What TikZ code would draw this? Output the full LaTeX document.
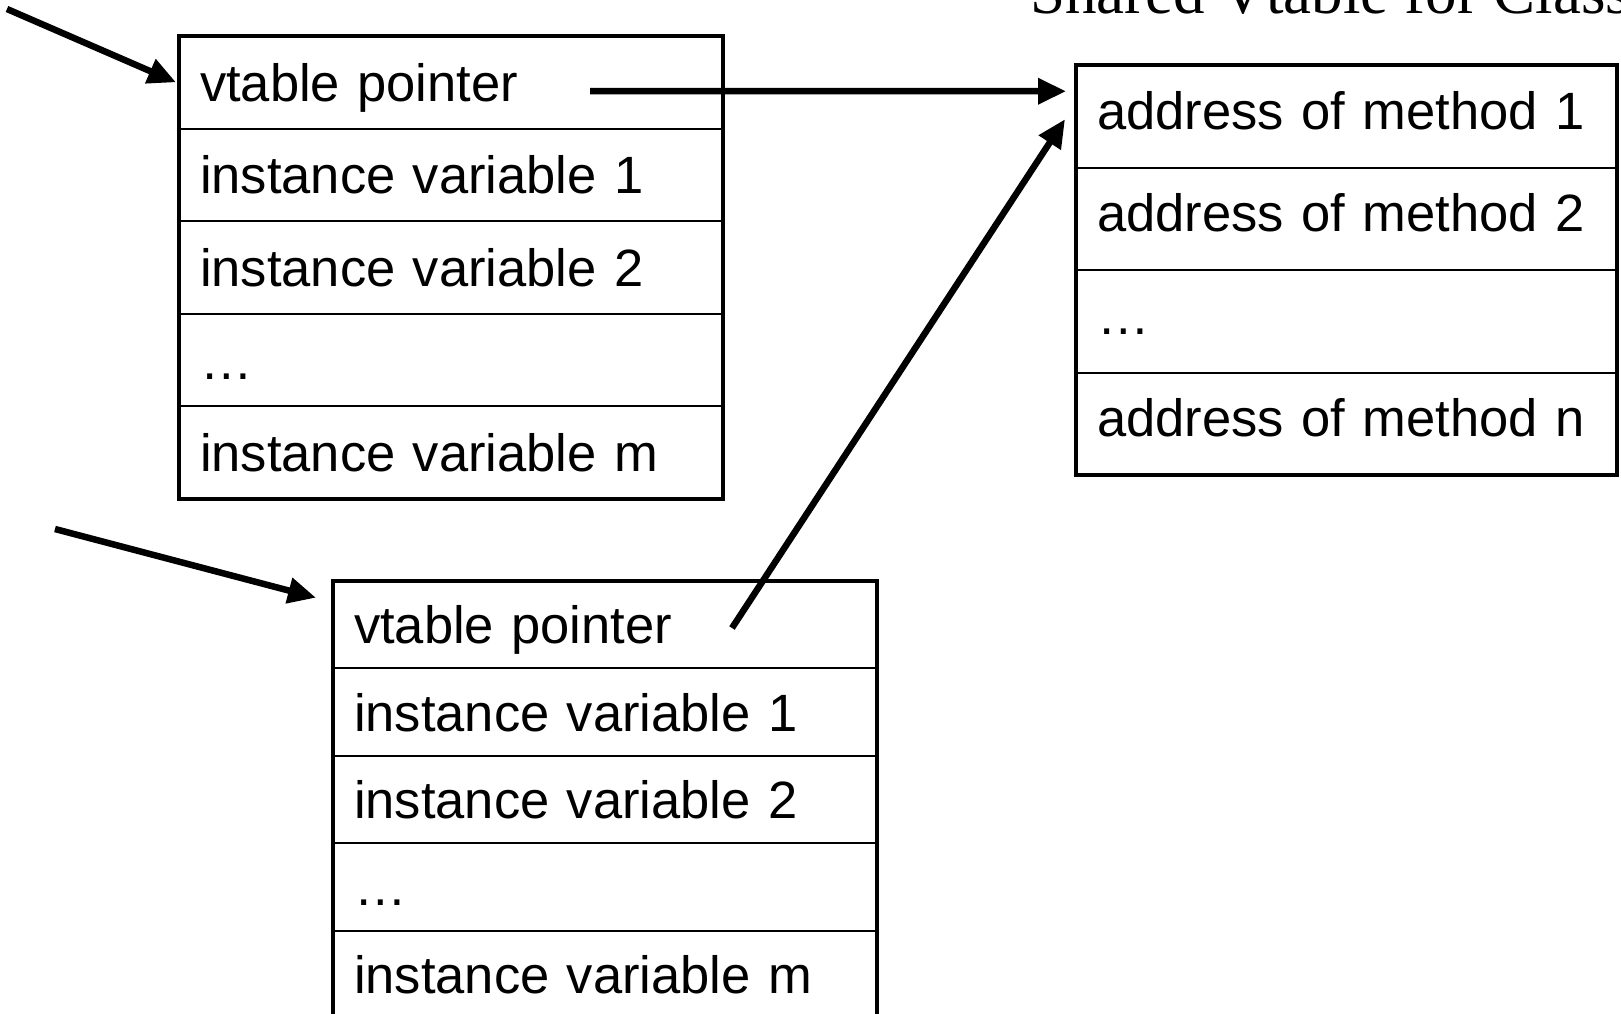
\documentclass[tikz,border=0pt]{standalone}
\usepackage{fontspec}
\setmainfont{Liberation Sans}
\newfontfamily\titlefamily{Liberation Serif}
\usetikzlibrary{arrows.meta,calc}
\begin{document}
\begin{tikzpicture}[x=1pt,y=-1pt,
  cell/.style={rectangle, draw, line width=2pt, anchor=north west, outer sep=0pt,
    inner xsep=21pt, inner ysep=0pt, align=left,
    font=\fontsize{52.5}{60}\selectfont, text height=38pt, text depth=0pt},
  cellA/.style={cell, minimum width=544pt, text width=502pt, minimum height=92.6pt},
  cellB/.style={cell, minimum width=544pt, text width=502pt, minimum height=87.4pt},
  cellC/.style={cell, minimum width=541pt, text width=499pt, minimum height=102.5pt, text depth=12pt},
  frame/.style={line width=4.5pt},
  arr/.style={line width=6.5pt, -{Triangle[length=28pt,width=25pt]}}
]
\useasboundingbox (0,0) rectangle (1621,1013);
\fill[white] (0,0) rectangle (1621,1013);

% title (cut off at the top and right in the reference)
\node[anchor=base west, inner sep=0pt, font=\titlefamily\fontsize{63}{70}\selectfont] (title) at (1030,13) {Shared Vtable for Class};

% object A
\node[cellA] (a1) at (179,36) {vtable pointer};
\node[cellA] (a2) at (a1.south west) {instance variable 1};
\node[cellA] (a3) at (a2.south west) {instance variable 2};
\node[cellA] (a4) at (a3.south west) {…};
\node[cellA] (a5) at (a4.south west) {instance variable m};
\draw[frame] (a1.north west) rectangle (a5.south east);

% object B
\node[cellB] (b1) at (333,581) {vtable pointer};
\node[cellB] (b2) at (b1.south west) {instance variable 1};
\node[cellB] (b3) at (b2.south west) {instance variable 2};
\node[cellB] (b4) at (b3.south west) {…};
\node[cellB] (b5) at (b4.south west) {instance variable m};
\draw[frame] (b1.north west) rectangle (b5.south east);

% shared vtable
\node[cellC] (c1) at (1076,65) {address of method 1};
\node[cellC] (c2) at (c1.south west) {address of method 2};
\node[cellC] (c3) at (c2.south west) {…};
\node[cellC] (c4) at (c3.south west) {address of method n};
\draw[frame] (c1.north west) rectangle (c4.south east);

% connectors
\coordinate (inA) at (7,9);
\coordinate (inB) at (55,529);
\coordinate (ptrA) at (590,91);
\coordinate (ptrB) at (732,628);
\draw[arr] (inA) -- ($(a1.west)+(-3,0)$);
\draw[arr] (inB) -- ($(b1.west)+(-17,-27)$);
\draw[arr] (ptrA) -- ($(c1.west)+(-10,-25)$);
\draw[arr] (ptrB) -- ($(c1.west)+(-11,3)$);
\end{tikzpicture}
\end{document}
